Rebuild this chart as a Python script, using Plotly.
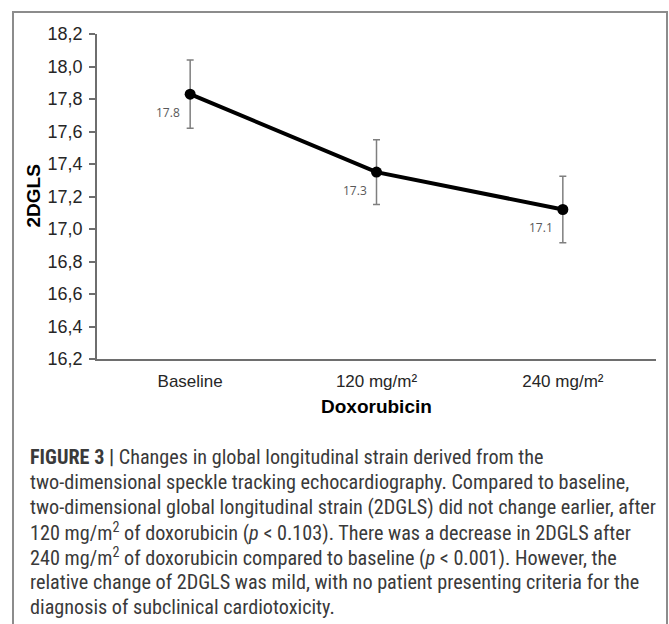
import plotly.graph_objects as go

# ---------------- data ----------------
categories = ["Baseline", "120 mg/m²", "240 mg/m²"]
gls_mean = [17.83, 17.35, 17.12]
gls_err = [0.21, 0.20, 0.205]
value_labels = ["17.8", "17.3", "17.1"]
y_title = "2DGLS"
x_title = "Doxorubicin"
caption_lines = [
    "<b>FIGURE 3 |</b> Changes in global longitudinal strain derived from the",
    "two-dimensional speckle tracking echocardiography. Compared to baseline,",
    "two-dimensional global longitudinal strain (2DGLS) did not change earlier, after",
    "120 mg/m<sup>2</sup> of doxorubicin (<i>p</i> &lt; 0.103). There was a decrease in 2DGLS after",
    "240 mg/m<sup>2</sup> of doxorubicin compared to baseline (<i>p</i> &lt; 0.001). However, the",
    "relative change of 2DGLS was mild, with no patient presenting criteria for the",
    "diagnosis of subclinical cardiotoxicity.",
]

# ---------------- layout geometry ----------------
W, H = 669, 624
ML, MR, MT, MB = 97, 13, 34, 265
PW = W - ML - MR
PH = H - MT - MB


def px(x):
    return (x - ML) / PW


def py(y):
    return (H - MB - y) / PH


fig = go.Figure()
fig.add_trace(go.Scatter(
    x=categories, y=gls_mean,
    mode="lines+markers",
    line=dict(color="black", width=4),
    marker=dict(color="black", size=11),
    error_y=dict(type="data", array=gls_err, visible=True,
                 color="#7f7f7f", thickness=1.5, width=3.5),
    showlegend=False,
    hoverinfo="skip",
))

for c, v, t in zip(categories, gls_mean, value_labels):
    fig.add_annotation(x=c, y=v, text=t, showarrow=False,
                       xanchor="right", yanchor="middle",
                       xshift=-8, yshift=-18,
                       font=dict(family="Open Sans, Liberation Sans", size=12, color="#595959"))

# axis titles
fig.add_annotation(xref="paper", yref="paper", x=px(33), y=0.5, text="<b>%s</b>" % y_title,
                   textangle=-90, showarrow=False, xanchor="center", yanchor="middle",
                   font=dict(family="Liberation Sans, Arial", size=19, color="black"))
fig.add_annotation(xref="paper", yref="paper", x=0.5, y=py(406), text="<b>%s</b>" % x_title,
                   showarrow=False, xanchor="center", yanchor="middle",
                   font=dict(family="Liberation Sans, Arial", size=19, color="black"))

# caption
caption_y = [457, 482, 507, 532, 557, 582, 607]
for line, yy in zip(caption_lines, caption_y):
    fig.add_annotation(xref="paper", yref="paper", x=px(28), y=py(yy), text=line,
                       showarrow=False, xanchor="left", yanchor="middle", align="left",
                       font=dict(family="Liberation Sans Narrow, Roboto Condensed, Roboto",
                                 size=20.2, color="#3a3a3a"))

# frame around the figure
fig.add_shape(type="rect", xref="paper", yref="paper",
              x0=px(13), x1=px(667), y0=py(12), y1=py(640),
              line=dict(color="#8c8c8c", width=2), fillcolor="rgba(0,0,0,0)", layer="below")

fig.update_layout(
    width=W, height=H,
    margin=dict(l=ML, r=MR, t=MT, b=MB, pad=0),
    paper_bgcolor="white", plot_bgcolor="white",
    separators=",.",
    xaxis=dict(
        type="category", range=[-0.5, 2.5],
        showline=True, linecolor="#6e6e6e", linewidth=1.5,
        ticks="", showgrid=False, zeroline=False,
        tickfont=dict(family="Liberation Sans, Arial", size=17, color="#262626"),
        ticklabelstandoff=6,
    ),
    yaxis=dict(
        range=[16.2, 18.2], dtick=0.2, tick0=16.2, tickformat=".1f",
        showline=True, linecolor="#6e6e6e", linewidth=1.5,
        ticks="outside", ticklen=6, tickcolor="#6e6e6e", tickwidth=1.5,
        showgrid=False, zeroline=False,
        tickfont=dict(family="Liberation Sans, Arial", size=18, color="#262626"),
        ticklabelstandoff=3,
    ),
)

fig.write_html("out.html")
